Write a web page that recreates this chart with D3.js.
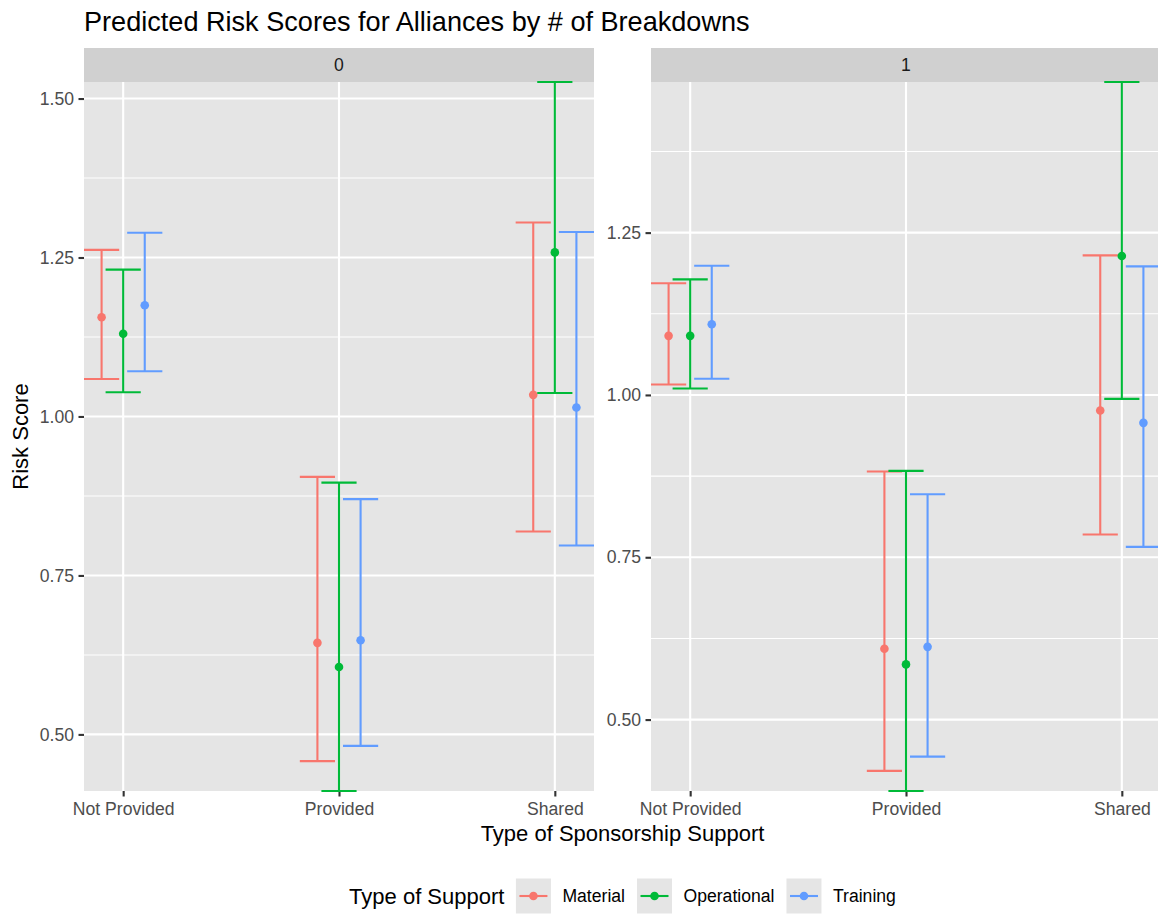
<!DOCTYPE html>
<html>
<head>
<meta charset="utf-8">
<script src="https://cdn.jsdelivr.net/npm/d3@7"></script>
<style>
  html, body { margin: 0; padding: 0; background: #ffffff; }
  svg { display: block; }
  text { font-family: "Liberation Sans", Arial, Helvetica, sans-serif; }
</style>
</head>
<body>
<svg id="chart" width="1158" height="915"></svg>
<script>
// ---------------- DATA ----------------
const title = "Predicted Risk Scores for Alliances by # of Breakdowns";
const xTitle = "Type of Sponsorship Support";
const yTitle = "Risk Score";
const legendTitle = "Type of Support";
const categories = ["Not Provided", "Provided", "Shared"];
const series = ["Material", "Operational", "Training"];
const facets = ["0", "1"];
const yTickValues = [0.50, 0.75, 1.00, 1.25, 1.50];

// facet "0"
const f0_est = {
  Material:    [1.156, 0.644, 1.034],
  Operational: [1.130, 0.606, 1.258],
  Training:    [1.175, 0.648, 1.014]
};
const f0_low = {
  Material:    [1.059, 0.458, 0.819],
  Operational: [1.038, 0.411, 1.037],
  Training:    [1.071, 0.482, 0.797]
};
const f0_high = {
  Material:    [1.262, 0.905, 1.305],
  Operational: [1.231, 0.896, 1.526],
  Training:    [1.289, 0.870, 1.290]
};
// facet "1"
const f1_est = {
  Material:    [1.091, 0.609, 0.976],
  Operational: [1.091, 0.585, 1.214],
  Training:    [1.109, 0.612, 0.957]
};
const f1_low = {
  Material:    [1.016, 0.421, 0.785],
  Operational: [1.010, 0.390, 0.994],
  Training:    [1.025, 0.443, 0.766]
};
const f1_high = {
  Material:    [1.172, 0.882, 1.215],
  Operational: [1.178, 0.883, 1.482],
  Training:    [1.199, 0.847, 1.198]
};

const colors = ["#F8766D", "#00BA38", "#619CFF"];

// ---------------- LAYOUT ----------------
const svg = d3.select("#chart");
const panelTop = 82, panelBottom = 791, stripTop = 48;
const panelW = 510;
const panelLefts = [84, 651];
const panelBg = "#E5E5E5", stripBg = "#D0D0D0";
const majorW = 2.1, minorW = 1.05;
const dodgeFrac = 0.1, capFrac = 0.0815;

const facetData = [
  { est: f0_est, low: f0_low, high: f0_high },
  { est: f1_est, low: f1_low, high: f1_high }
];

const color = d3.scaleOrdinal().domain(series).range(colors);

facetData.forEach((fd, fi) => {
  const left = panelLefts[fi];
  const allVals = [];
  series.forEach(s => { allVals.push(...fd.low[s], ...fd.high[s]); });
  const y = d3.scaleLinear().domain(d3.extent(allVals)).range([panelBottom, panelTop]);
  const x = d3.scalePoint().domain(categories).range([0, panelW]).padding(dodgeFrac + capFrac);
  const step = x.step();
  const dodge = d3.scalePoint().domain(series).range([-step * dodgeFrac, step * dodgeFrac]);
  const capHalf = step * capFrac;

  const g = svg.append("g").attr("transform", `translate(${left},0)`);

  // strip
  g.append("rect").attr("x", 0).attr("y", stripTop).attr("width", panelW)
    .attr("height", panelTop - stripTop).attr("fill", stripBg);
  g.append("text").attr("x", panelW / 2).attr("y", (stripTop + panelTop) / 2)
    .attr("dy", "0.36em").attr("text-anchor", "middle")
    .attr("font-size", 17.6).attr("fill", "#1A1A1A").text(facets[fi]);

  // panel
  g.append("rect").attr("x", 0).attr("y", panelTop).attr("width", panelW)
    .attr("height", panelBottom - panelTop).attr("fill", panelBg);

  const [d0, d1] = y.domain();
  const majors = yTickValues.filter(v => v >= d0 && v <= d1);
  const minorCandidates = [];
  for (let i = 0; i < yTickValues.length - 1; i++) minorCandidates.push((yTickValues[i] + yTickValues[i + 1]) / 2);
  minorCandidates.push(yTickValues[yTickValues.length - 1] + 0.125);
  const minors = minorCandidates.filter(v => v >= d0 && v <= d1);

  g.selectAll(".minor").data(minors).join("line")
    .attr("x1", 0).attr("x2", panelW)
    .attr("y1", d => y(d)).attr("y2", d => y(d))
    .attr("stroke", "#ffffff").attr("stroke-width", minorW);
  g.selectAll(".majorY").data(majors).join("line")
    .attr("x1", 0).attr("x2", panelW)
    .attr("y1", d => y(d)).attr("y2", d => y(d))
    .attr("stroke", "#ffffff").attr("stroke-width", majorW);
  g.selectAll(".majorX").data(categories).join("line")
    .attr("x1", d => x(d)).attr("x2", d => x(d))
    .attr("y1", panelTop).attr("y2", panelBottom)
    .attr("stroke", "#ffffff").attr("stroke-width", majorW);

  // y axis
  const yAxis = d3.axisLeft(y).tickValues(majors).tickFormat(d3.format(".2f"))
    .tickSize(5.5).tickPadding(4.5);
  const ya = g.append("g").call(yAxis);
  ya.select(".domain").remove();
  ya.selectAll(".tick line").attr("stroke", "#333333").attr("stroke-width", majorW);
  ya.selectAll(".tick text").attr("font-size", 17.6).attr("fill", "#4D4D4D")
    .attr("font-family", '"Liberation Sans", Arial, Helvetica, sans-serif');

  // x axis
  const xAxis = d3.axisBottom(x).tickSize(5.5).tickPadding(6.5);
  const xa = g.append("g").attr("transform", `translate(0,${panelBottom})`).call(xAxis);
  xa.select(".domain").remove();
  xa.selectAll(".tick line").attr("stroke", "#333333").attr("stroke-width", majorW);
  xa.selectAll(".tick text").attr("font-size", 17.6).attr("fill", "#4D4D4D")
    .attr("font-family", '"Liberation Sans", Arial, Helvetica, sans-serif');

  // error bars + points
  const rows = [];
  series.forEach(s => categories.forEach((c, ci) => {
    rows.push({ s, c, est: fd.est[s][ci], lo: fd.low[s][ci], hi: fd.high[s][ci] });
  }));
  const eb = g.append("g").selectAll("g").data(rows).join("g")
    .attr("transform", d => `translate(${x(d.c) + dodge(d.s)},0)`);
  eb.append("line").attr("x1", 0).attr("x2", 0)
    .attr("y1", d => y(d.lo)).attr("y2", d => y(d.hi))
    .attr("stroke", d => color(d.s)).attr("stroke-width", majorW);
  eb.append("line").attr("x1", -capHalf).attr("x2", capHalf)
    .attr("y1", d => y(d.hi)).attr("y2", d => y(d.hi))
    .attr("stroke", d => color(d.s)).attr("stroke-width", majorW);
  eb.append("line").attr("x1", -capHalf).attr("x2", capHalf)
    .attr("y1", d => y(d.lo)).attr("y2", d => y(d.lo))
    .attr("stroke", d => color(d.s)).attr("stroke-width", majorW);
  eb.append("circle").attr("cx", 0).attr("cy", d => y(d.est)).attr("r", 4.3)
    .attr("fill", d => color(d.s));
});

// ---------------- TITLES ----------------
svg.append("text").attr("x", 84).attr("y", 31).attr("font-size", 27.1)
  .attr("fill", "#000000").text(title);
svg.append("text").attr("x", (panelLefts[0] + panelLefts[1] + panelW) / 2).attr("y", 841)
  .attr("text-anchor", "middle").attr("font-size", 22).attr("fill", "#000000").text(xTitle);
svg.append("text").attr("transform", `translate(28,${(panelTop + panelBottom) / 2}) rotate(-90)`)
  .attr("text-anchor", "middle").attr("font-size", 22).attr("fill", "#000000").text(yTitle);

// ---------------- LEGEND ----------------
const legend = svg.append("g");
const keySize = 35, keyTop = 878.5, keyMid = keyTop + keySize / 2;
const lt = legend.append("text").attr("y", keyMid).attr("dy", "0.36em")
  .attr("font-size", 22).attr("fill", "#000000").text(legendTitle);
const ltW = lt.node().getComputedTextLength();
const labelNodes = series.map(s => legend.append("text").attr("y", keyMid).attr("dy", "0.36em")
  .attr("font-size", 17.6).attr("fill", "#000000").text(s));
const labelW = labelNodes.map(n => n.node().getComputedTextLength());
const gapA = 11.5, gapB = 12;
let total = ltW + gapA;
series.forEach((s, i) => { total += keySize + gapA + labelW[i] + (i < series.length - 1 ? gapB : 0); });
let cx = 622.5 - total / 2;
lt.attr("x", cx);
cx += ltW + gapA;
series.forEach((s, i) => {
  legend.append("rect").attr("x", cx).attr("y", keyTop).attr("width", keySize).attr("height", keySize)
    .attr("fill", panelBg);
  legend.append("line").attr("x1", cx + 3.5).attr("x2", cx + keySize - 3.5)
    .attr("y1", keyMid).attr("y2", keyMid).attr("stroke", color(s)).attr("stroke-width", majorW);
  legend.append("circle").attr("cx", cx + keySize / 2).attr("cy", keyMid).attr("r", 4.3).attr("fill", color(s));
  cx += keySize + gapA;
  labelNodes[i].attr("x", cx);
  cx += labelW[i] + gapB;
});
</script>
</body>
</html>
